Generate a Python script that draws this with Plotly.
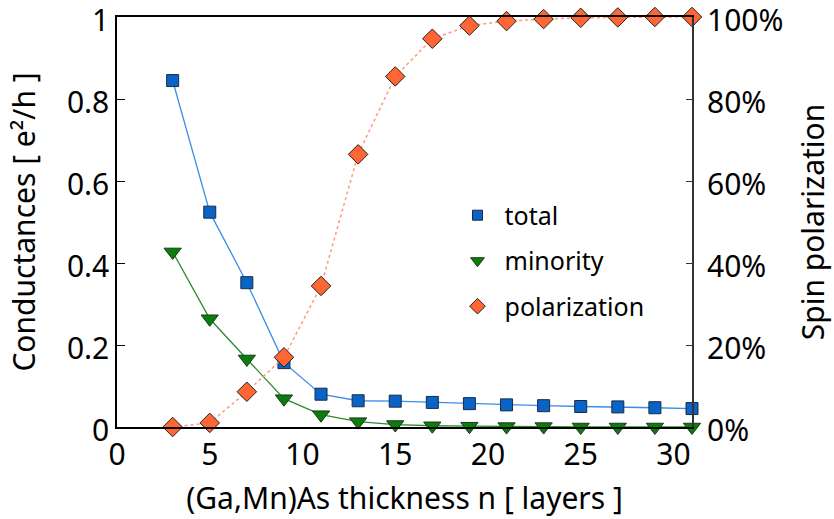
import plotly.graph_objects as go

# Layer thickness n (number of (Ga,Mn)As layers)
thickness = [3, 5, 7, 9, 11, 13, 15, 17, 19, 21, 23, 25, 27, 29, 31]

# Conductances in units of e^2/h
total = [0.845, 0.524, 0.352, 0.157, 0.080, 0.064, 0.063, 0.060, 0.057,
         0.054, 0.052, 0.050, 0.049, 0.047, 0.045]
minority = [0.427, 0.264, 0.166, 0.069, 0.030, 0.013, 0.006, 0.003, 0.002,
            0.001, 0.001, 0.000, 0.000, 0.000, 0.000]

# Spin polarization in percent
polarization = [0.0, 1.0, 8.6, 17.0, 34.4, 66.5, 85.5, 94.7, 97.9,
                99.0, 99.5, 99.8, 99.9, 100.0, 100.0]

x_tick_vals = [0, 5, 10, 15, 20, 25, 30]
y_tick_vals = [0, 0.2, 0.4, 0.6, 0.8, 1]
y_tick_text = ["0", "0.2", "0.4", "0.6", "0.8", "1"]
p_tick_vals = [0, 20, 40, 60, 80, 100]
p_tick_text = ["0%", "20%", "40%", "60%", "80%", "100%"]

FONT = "Noto Sans"
FS_AXIS = 30
FS_LEGEND = 25

BLUE = "#0a64c8"
GREEN = "#0a7d0a"
ORANGE = "#ff6633"

fig = go.Figure()

fig.add_trace(go.Scatter(
    x=thickness, y=polarization, yaxis="y2", mode="lines+markers",
    line=dict(color="#ff9a7a", width=1.5, dash="3px,3px"),
    marker=dict(symbol="diamond", size=15, color=ORANGE,
                line=dict(color="#222222", width=1)),
    showlegend=False, cliponaxis=False,
))
fig.add_trace(go.Scatter(
    x=thickness, y=minority, mode="lines+markers",
    line=dict(color="#2e8b2e", width=1.3),
    marker=dict(symbol="triangle-down", size=15, color=GREEN,
                line=dict(color="#1a3a1a", width=1)),
    showlegend=False, cliponaxis=False,
))
fig.add_trace(go.Scatter(
    x=thickness, y=total, mode="lines+markers",
    line=dict(color="#3a8ee8", width=1.3),
    marker=dict(symbol="square", size=12, color=BLUE,
                line=dict(color="#1a2a44", width=1)),
    showlegend=False, cliponaxis=False,
))

# Legend entries (symbol only)
for name, sym, col, sz, lc in [
    ("total", "square", BLUE, 10, "#1a2a44"),
    ("minority", "triangle-down", GREEN, 12, "#1a3a1a"),
    ("polarization", "diamond", ORANGE, 12, "#222222"),
]:
    fig.add_trace(go.Scatter(
        x=[None], y=[None], mode="markers", name=name, legendgroup=name,
        marker=dict(symbol=sym, size=sz, color=col, line=dict(color=lc, width=1)),
    ))

axis_font = dict(family=FONT, size=FS_AXIS, color="black")

fig.update_layout(
    width=834, height=519,
    margin=dict(l=117, r=142, t=17, b=92, autoexpand=False),
    paper_bgcolor="white", plot_bgcolor="white",
    font=dict(family=FONT, size=FS_AXIS, color="black"),
    xaxis=dict(
        range=[0, 31], tickvals=x_tick_vals, ticks="", showgrid=False,
        zeroline=False, showline=True, linecolor="black", linewidth=1.5,
        mirror=True, tickfont=axis_font, ticklabeloverflow="allow",
        automargin=False,
        title=dict(text="(Ga,Mn)As thickness n [ layers ]", font=axis_font),
    ),
    xaxis2=dict(
        range=[0, 31], overlaying="x", anchor="y", side="bottom",
        tickvals=[10, 20, 30], ticks="inside", ticklen=9, tickcolor="black",
        showticklabels=False, showgrid=False, zeroline=False, showline=False,
        automargin=False,
    ),
    yaxis=dict(
        range=[0, 1], tickvals=y_tick_vals, ticktext=y_tick_text,
        ticks="inside", ticklen=8, tickcolor="black", showgrid=False,
        zeroline=False, showline=True, linecolor="black", linewidth=1.5,
        tickfont=axis_font, ticklabeloverflow="allow", automargin=False,
        ticklabelshift=3,
        title=dict(text="Conductances [ e²/h ]", font=axis_font, standoff=22),
    ),
    yaxis2=dict(
        range=[0, 100], overlaying="y", side="right", anchor="x",
        tickvals=p_tick_vals, ticktext=p_tick_text,
        ticks="inside", ticklen=6, tickcolor="#333333", showgrid=False,
        zeroline=False, showline=True, linecolor="#333333", linewidth=2,
        tickfont=axis_font, ticklabeloverflow="allow", automargin=False,
        ticklabelshift=3, ticklabelstandoff=7,
        title=dict(text="Spin polarization", font=axis_font, standoff=21),
    ),
    legend=dict(
        x=0.58, y=0.405, xanchor="left", yanchor="middle",
        bgcolor="rgba(0,0,0,0)", font=dict(family=FONT, size=FS_LEGEND),
        tracegroupgap=10, itemwidth=44, traceorder="grouped",
    ),
)

fig.write_html("out.html")
